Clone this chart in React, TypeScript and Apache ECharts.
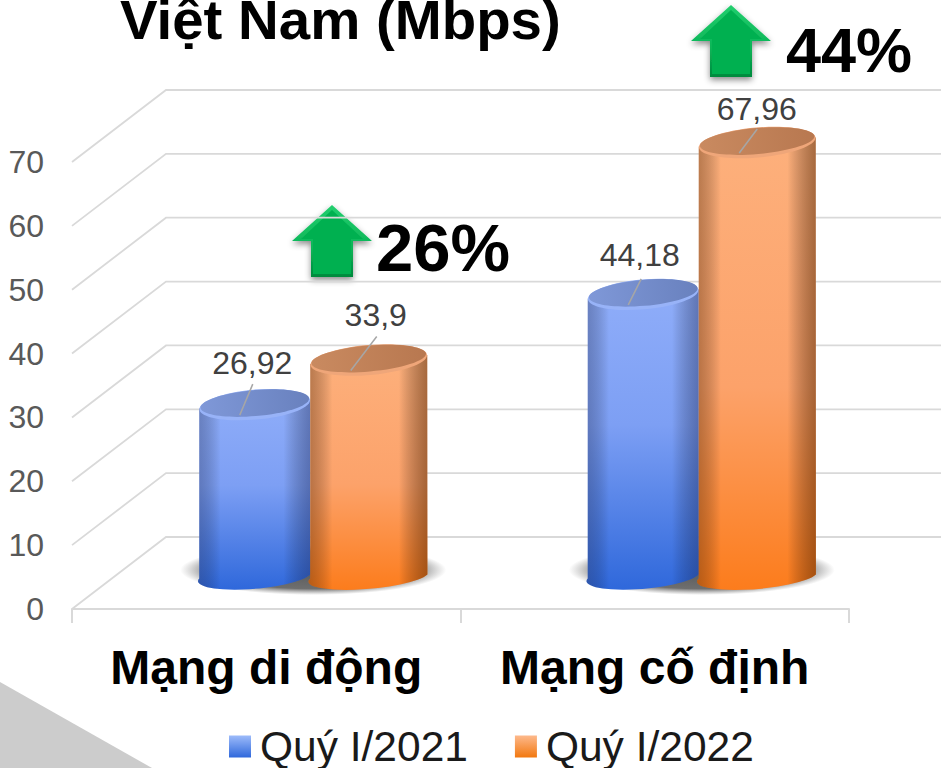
import React, { useEffect, useRef } from "react";
import * as echarts from "echarts";

const categories = ["Mạng di động", "Mạng cố định"];
const seriesNames = ["Quý I/2021", "Quý I/2022"];
const values2021 = [26.92, 44.18];
const values2022 = [33.9, 67.96];
const yTicks = [0, 10, 20, 30, 40, 50, 60, 70];
const titleText = "Việt Nam (Mbps)";
const growthLabels = ["26%", "44%"];

const DEPTH_X = 47;
const BASE_DY = -33;
const BOT_LIFT = 2;
const TOP_RY = 14;
const BOT_RY = 12;
const TILT = -5;
const SKEW = 4.5;

const LG = echarts.graphic.LinearGradient;
const RG = echarts.graphic.RadialGradient;

const palette = [
  {
    hw: 55.5,
    off: -58.5,
    body: [
      [0, "#8FADF9"],
      [0.45, "#7D9FF4"],
      [1, "#2F68DB"],
    ],
    edgeL: "rgba(40,50,90,0.36)",
    edgeR: "rgba(25,35,80,0.4)",
    rim: "#98B3F8",
    topL: "#7F98D8",
    topR: "#6981BE",
    leaders: [
      [-2, -20, -15, 11],
      [-2, -15, -15, 11],
    ],
    labelOff: [-2.5, -41],
    labelOff2: [-3.5, -39],
  },
  {
    hw: 58.5,
    off: 55.5,
    body: [
      [0, "#FDB07C"],
      [0.55, "#FCA26A"],
      [1, "#FC7C1C"],
    ],
    edgeL: "rgba(90,45,10,0.42)",
    edgeR: "rgba(80,35,0,0.5)",
    rim: "#EFA679",
    topL: "#C98A60",
    topR: "#B87850",
    leaders: [
      [8, -23, -18, 11],
      [0, -13, -18, 11],
    ],
    labelOff: [7, -45],
    labelOff2: [-0.5, -33],
  },
];

function stops(list: any[]) {
  return list.map(([offset, color]) => ({ offset, color }));
}

function cylinder(seriesIdx: number) {
  const p = palette[seriesIdx];
  return (params: any, api: any) => {
    const cat = api.value(0);
    const v = api.value(1);
    const base = api.coord([cat, 0]);
    const top = api.coord([cat, v]);
    const cx = base[0] + DEPTH_X + p.off;
    const by = base[1] + BASE_DY - BOT_LIFT;
    const ty = top[1] + BASE_DY;
    const L = cx - p.hw;
    const R = cx + p.hw;
    const d = `M${L} ${ty + SKEW}L${L} ${by + SKEW}A${p.hw} ${BOT_RY} ${TILT} 0 0 ${R} ${by - SKEW}L${R} ${ty - SKEW}Z`;
    const leader = p.leaders[cat];
    const off = cat === 0 ? p.labelOff : p.labelOff2;
    return {
      type: "group",
      children: [
        {
          type: "path",
          shape: { pathData: d },
          style: { fill: new LG(0, 0, 0, 1, stops(p.body)) },
        },
        {
          type: "path",
          shape: { pathData: d },
          style: {
            fill: new LG(0, 0, 1, 0, [
              { offset: 0, color: p.edgeL },
              { offset: 0.2, color: "rgba(0,0,0,0)" },
              { offset: 0.76, color: "rgba(0,0,0,0)" },
              { offset: 1, color: p.edgeR },
            ]),
          },
        },
        {
          type: "ellipse",
          shape: { cx: 0, cy: 0, rx: p.hw, ry: TOP_RY + 1 },
          x: cx,
          y: ty + 0.5,
          rotation: (-TILT * Math.PI) / 180,
          style: { fill: p.rim },
        },
        {
          type: "ellipse",
          shape: { cx: 0, cy: 0, rx: p.hw - 1, ry: TOP_RY - 1 },
          x: cx,
          y: ty - 1,
          rotation: (-TILT * Math.PI) / 180,
          style: {
            fill: new LG(0, 0, 1, 0, [
              { offset: 0, color: p.topL },
              { offset: 1, color: p.topR },
            ]),
          },
        },
        {
          type: "line",
          shape: {
            x1: cx + leader[0],
            y1: ty + leader[1],
            x2: cx + leader[2],
            y2: ty + leader[3],
          },
          style: { stroke: "#A6A6A6", lineWidth: 1.5 },
        },
        {
          type: "text",
          style: {
            text: String(v).replace(".", ","),
            x: cx + off[0],
            y: ty + off[1],
            align: "center",
            verticalAlign: "middle",
            font: '32px "Liberation Sans", Arial, sans-serif',
            fill: "#404040",
          },
        },
      ],
    };
  };
}

function wallLine(params: any, api: any) {
  const v = api.value(1);
  const y = api.coord([0, v])[1];
  const g = params.coordSys;
  const x0 = g.x;
  const bx = x0 + 94;
  const by = y - 72;
  return {
    type: "polyline",
    shape: {
      points: [
        [x0, y],
        [bx, by],
        [941, by],
      ],
    },
    style: { stroke: "#D9D9D9", lineWidth: 1.8, fill: "none" },
  };
}

function groundShadow(params: any, api: any) {
  const base = api.coord([api.value(0), 0]);
  return {
    type: "ellipse",
    shape: { cx: base[0] + DEPTH_X, cy: base[1] + BASE_DY - 6, rx: 133, ry: 25 },
    style: {
      fill: new RG(0.5, 0.5, 0.5, [
        { offset: 0, color: "rgba(70,70,70,0.9)" },
        { offset: 0.75, color: "rgba(85,85,85,0.85)" },
        { offset: 1, color: "rgba(120,120,120,0)" },
      ]),
    },
  };
}

function arrow(x: number, y: number) {
  const outer = [
    [x, y],
    [x + 40, y + 36],
    [x + 21, y + 36],
    [x + 21, y + 72],
    [x - 21, y + 72],
    [x - 21, y + 36],
    [x - 40, y + 36],
  ];
  const inner = [
    [x, y + 5],
    [x + 31, y + 34],
    [x + 19, y + 34],
    [x + 19, y + 69],
    [x - 19, y + 69],
    [x - 19, y + 34],
    [x - 31, y + 34],
  ];
  return [
    {
      type: "polygon",
      shape: { points: outer },
      style: {
        fill: new LG(0, 0, 0, 1, [
          { offset: 0, color: "#22CE6E" },
          { offset: 0.6, color: "#0CB557" },
          { offset: 1, color: "#008A3D" },
        ]),
        shadowBlur: 6,
        shadowColor: "rgba(0,0,0,0.45)",
        shadowOffsetY: 3,
      },
    },
    {
      type: "polygon",
      shape: { points: inner },
      style: { fill: "#00B050" },
    },
  ];
}

function pct(text: string, x: number, y: number, size: number) {
  return {
    type: "text",
    style: {
      text,
      x,
      y,
      align: "left",
      verticalAlign: "middle",
      font: `bold ${size}px "Liberation Sans", Arial, sans-serif`,
      fill: "#000000",
    },
  };
}

export default function App() {
  const ref = useRef<HTMLDivElement>(null);
  useEffect(() => {
    const chart = echarts.init(ref.current!, null, { renderer: "svg" });
    const cats = categories.map((_, i) => i);
    chart.setOption({
      animation: false,
      backgroundColor: "#ffffff",
      title: {
        text: titleText,
        left: 120,
        top: -4,
        padding: 0,
        textStyle: {
          fontFamily: '"Liberation Sans", Arial, sans-serif',
          fontWeight: "bold",
          fontSize: 56.4,
          lineHeight: 46,
          color: "#000000",
        },
      },
      legend: {
        left: 229,
        top: 725,
        itemWidth: 22,
        itemHeight: 22,
        itemGap: 47,
        padding: 0,
        selectedMode: false,
        textStyle: {
          fontFamily: '"Liberation Sans", Arial, sans-serif',
          fontSize: 42.5,
          lineHeight: 40,
          color: "#1A1A1A",
          padding: [0, 0, 0, 4],
        },
        data: [
          {
            name: seriesNames[0],
            icon: "rect",
            itemStyle: {
              color: new LG(0, 0, 0, 1, [
                { offset: 0, color: "#9DBBFA" },
                { offset: 1, color: "#2F68DB" },
              ]),
            },
          },
          {
            name: seriesNames[1],
            icon: "rect",
            itemStyle: {
              color: new LG(0, 0, 0, 1, [
                { offset: 0, color: "#FDB98C" },
                { offset: 1, color: "#F2780F" },
              ]),
            },
          },
        ],
      },
      grid: { left: 72, right: 92, top: 162, bottom: 159 },
      xAxis: {
        type: "category",
        data: categories,
        axisLine: { show: true, lineStyle: { color: "#D9D9D9", width: 2 } },
        axisTick: { show: true, alignWithLabel: false, length: 14, lineStyle: { color: "#D9D9D9", width: 2 } },
        axisLabel: {
          show: true,
          interval: 0,
          hideOverlap: false,
          margin: 34,
          fontFamily: '"Liberation Sans", Arial, sans-serif',
          fontWeight: "bold",
          fontSize: 48,
          color: "#000000",
        },
      },
      yAxis: {
        type: "value",
        min: 0,
        max: 70,
        interval: 10,
        splitLine: { show: false },
        axisLine: { show: false },
        axisTick: { show: false },
        axisLabel: {
          margin: 28,
          fontFamily: '"Liberation Sans", Arial, sans-serif',
          fontSize: 32,
          color: "#595959",
        },
      },
      graphic: [
        {
          type: "polygon",
          z: -1,
          shape: {
            points: [
              [0, 682],
              [152, 768],
              [0, 768],
            ],
          },
          style: { fill: "#CCCCCC" },
        },
        ...arrow(332, 205),
        ...arrow(731, 5),
        pct(growthLabels[0], 376, 247, 67),
        pct(growthLabels[1], 786, 50, 63),
      ],
      series: [
        {
          type: "custom",
          name: "grid",
          silent: true,
          clip: false,
          renderItem: wallLine,
          data: yTicks.map((t) => [0, t]),
          z: 1,
        },
        {
          type: "custom",
          name: "shadow",
          silent: true,
          clip: false,
          renderItem: groundShadow,
          data: cats.map((c) => [c, 0]),
          z: 2,
        },
        {
          type: "custom",
          name: seriesNames[0],
          clip: false,
          renderItem: cylinder(0),
          data: values2021.map((v, i) => [i, v]),
          z: 3,
        },
        {
          type: "custom",
          name: seriesNames[1],
          clip: false,
          renderItem: cylinder(1),
          data: values2022.map((v, i) => [i, v]),
          z: 4,
        },
      ],
    });
    return () => chart.dispose();
  }, []);
  return (
    <div
      ref={ref}
      style={{ position: "absolute", left: 0, top: 0, width: 941, height: 768, overflow: "hidden" }}
    />
  );
}
